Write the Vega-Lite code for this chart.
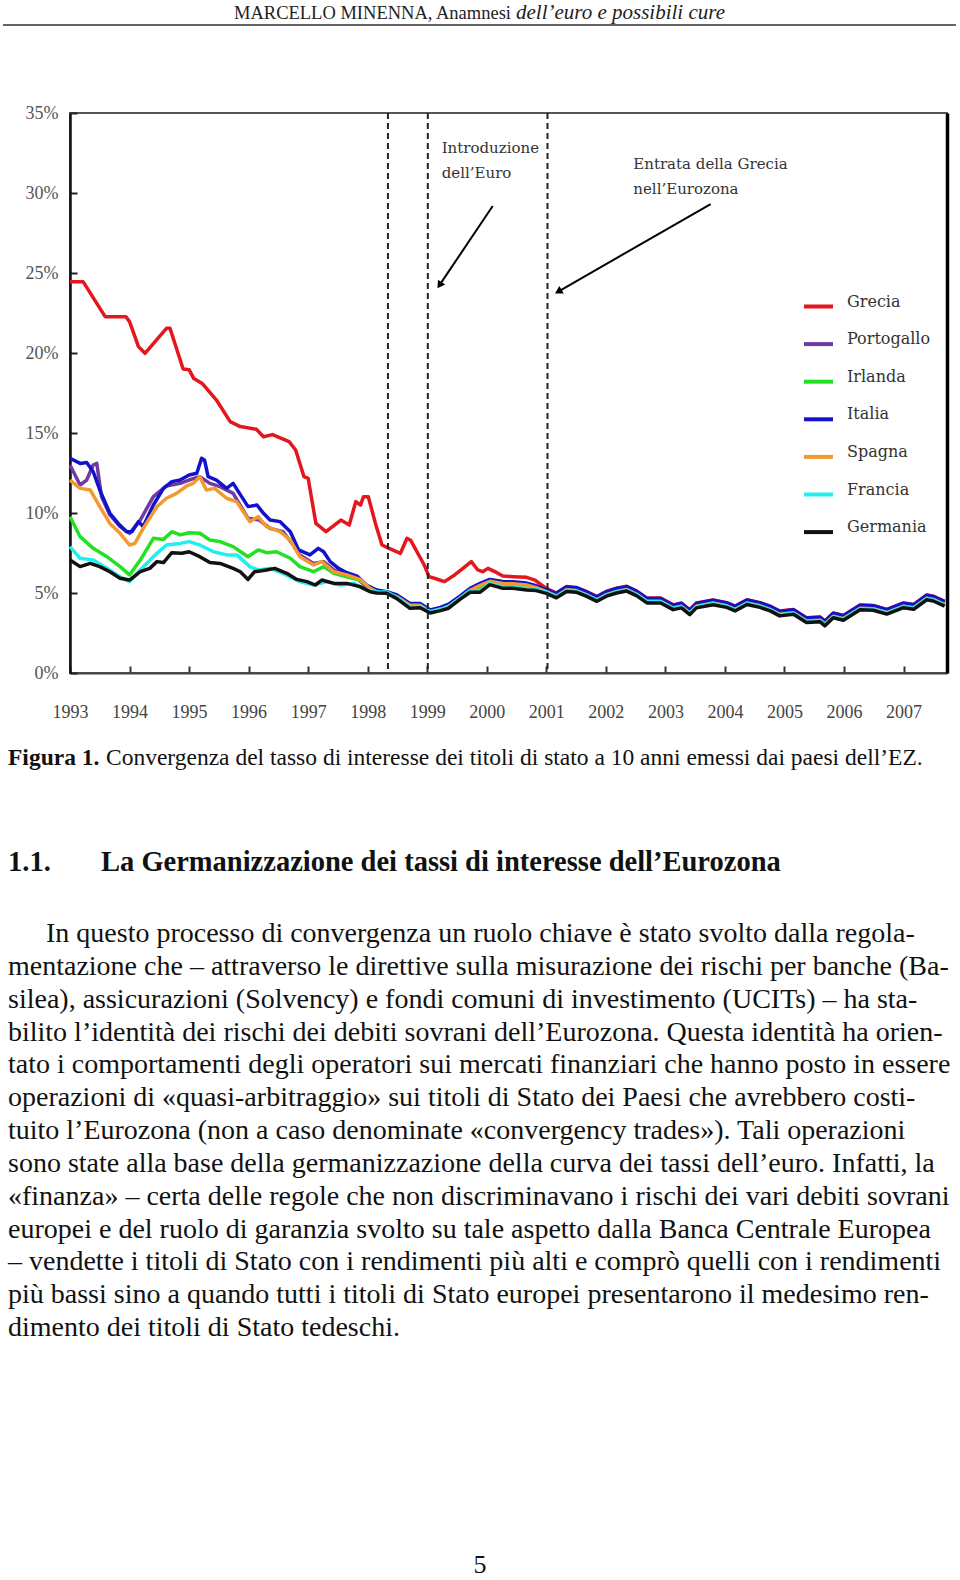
{
  "$schema": "https://vega.github.io/schema/vega-lite/v6.json",
  "width": 877,
  "height": 560,
  "autosize": {"type": "none"},
  "padding": {"left": 70, "top": 113, "right": 13, "bottom": 907},
  "background": "white",
  "config": {"view": {"stroke": "#555", "strokeWidth": 2}, "font": "Liberation Serif"},
  "datasets": {
    "rates": [
      {"paese":"Grecia","anno":1993.0,"tasso":24.46},{"paese":"Grecia","anno":1993.22,"tasso":24.46},{"paese":"Grecia","anno":1993.59,"tasso":22.27},{"paese":"Grecia","anno":1993.94,"tasso":22.27},{"paese":"Grecia","anno":1994.0,"tasso":21.96},{"paese":"Grecia","anno":1994.15,"tasso":20.4},{"paese":"Grecia","anno":1994.26,"tasso":19.98},{"paese":"Grecia","anno":1994.62,"tasso":21.54},{"paese":"Grecia","anno":1994.68,"tasso":21.54},{"paese":"Grecia","anno":1994.9,"tasso":19.0},{"paese":"Grecia","anno":1995.0,"tasso":18.96},{"paese":"Grecia","anno":1995.08,"tasso":18.4},{"paese":"Grecia","anno":1995.22,"tasso":18.1},{"paese":"Grecia","anno":1995.46,"tasso":17.06},{"paese":"Grecia","anno":1995.69,"tasso":15.71},{"paese":"Grecia","anno":1995.86,"tasso":15.4},{"paese":"Grecia","anno":1996.13,"tasso":15.23},{"paese":"Grecia","anno":1996.25,"tasso":14.77},{"paese":"Grecia","anno":1996.4,"tasso":14.9},{"paese":"Grecia","anno":1996.68,"tasso":14.46},{"paese":"Grecia","anno":1996.79,"tasso":13.94},{"paese":"Grecia","anno":1996.93,"tasso":12.27},{"paese":"Grecia","anno":1997.0,"tasso":12.17},{"paese":"Grecia","anno":1997.13,"tasso":9.35},{"paese":"Grecia","anno":1997.3,"tasso":8.83},{"paese":"Grecia","anno":1997.55,"tasso":9.56},{"paese":"Grecia","anno":1997.69,"tasso":9.25},{"paese":"Grecia","anno":1997.8,"tasso":10.71},{"paese":"Grecia","anno":1997.88,"tasso":10.5},{"paese":"Grecia","anno":1997.93,"tasso":11.02},{"paese":"Grecia","anno":1998.01,"tasso":11.02},{"paese":"Grecia","anno":1998.13,"tasso":9.35},{"paese":"Grecia","anno":1998.24,"tasso":8.0},{"paese":"Grecia","anno":1998.36,"tasso":7.79},{"paese":"Grecia","anno":1998.55,"tasso":7.48},{"paese":"Grecia","anno":1998.66,"tasso":8.42},{"paese":"Grecia","anno":1998.72,"tasso":8.3},{"paese":"Grecia","anno":1998.95,"tasso":6.75},{"paese":"Grecia","anno":1999.03,"tasso":6.02},{"paese":"Grecia","anno":1999.12,"tasso":5.92},{"paese":"Grecia","anno":1999.29,"tasso":5.71},{"paese":"Grecia","anno":1999.46,"tasso":6.13},{"paese":"Grecia","anno":1999.6,"tasso":6.54},{"paese":"Grecia","anno":1999.74,"tasso":6.96},{"paese":"Grecia","anno":1999.85,"tasso":6.44},{"paese":"Grecia","anno":1999.93,"tasso":6.33},{"paese":"Grecia","anno":2000.02,"tasso":6.54},{"paese":"Grecia","anno":2000.17,"tasso":6.27},{"paese":"Grecia","anno":2000.27,"tasso":6.06},{"paese":"Grecia","anno":2000.44,"tasso":6.02},{"paese":"Grecia","anno":2000.67,"tasso":5.98},{"paese":"Grecia","anno":2000.81,"tasso":5.81},{"paese":"Grecia","anno":2000.92,"tasso":5.5},{"paese":"Grecia","anno":2001.0,"tasso":5.29},
      {"paese":"Grecia","anno":2001.17,"tasso":5.0},{"paese":"Grecia","anno":2001.34,"tasso":5.4},{"paese":"Grecia","anno":2001.5,"tasso":5.35},{"paese":"Grecia","anno":2001.67,"tasso":5.1},{"paese":"Grecia","anno":2001.85,"tasso":4.78},{"paese":"Grecia","anno":2002.01,"tasso":5.1},{"paese":"Grecia","anno":2002.18,"tasso":5.3},{"paese":"Grecia","anno":2002.35,"tasso":5.42},{"paese":"Grecia","anno":2002.52,"tasso":5.12},{"paese":"Grecia","anno":2002.69,"tasso":4.68},{"paese":"Grecia","anno":2002.92,"tasso":4.68},{"paese":"Grecia","anno":2003.13,"tasso":4.26},{"paese":"Grecia","anno":2003.27,"tasso":4.37},{"paese":"Grecia","anno":2003.41,"tasso":3.95},{"paese":"Grecia","anno":2003.52,"tasso":4.37},{"paese":"Grecia","anno":2003.8,"tasso":4.57},{"paese":"Grecia","anno":2004.03,"tasso":4.4},{"paese":"Grecia","anno":2004.17,"tasso":4.18},{"paese":"Grecia","anno":2004.37,"tasso":4.58},{"paese":"Grecia","anno":2004.59,"tasso":4.4},{"paese":"Grecia","anno":2004.76,"tasso":4.18},{"paese":"Grecia","anno":2004.92,"tasso":3.87},{"paese":"Grecia","anno":2005.15,"tasso":3.97},{"paese":"Grecia","anno":2005.37,"tasso":3.45},{"paese":"Grecia","anno":2005.6,"tasso":3.5},{"paese":"Grecia","anno":2005.68,"tasso":3.25},{"paese":"Grecia","anno":2005.82,"tasso":3.75},{"paese":"Grecia","anno":2005.99,"tasso":3.6},{"paese":"Grecia","anno":2006.27,"tasso":4.25},{"paese":"Grecia","anno":2006.49,"tasso":4.22},{"paese":"Grecia","anno":2006.72,"tasso":3.98},{"paese":"Grecia","anno":2007.0,"tasso":4.38},{"paese":"Grecia","anno":2007.17,"tasso":4.28},{"paese":"Grecia","anno":2007.39,"tasso":4.88},{"paese":"Grecia","anno":2007.5,"tasso":4.8},{"paese":"Grecia","anno":2007.69,"tasso":4.48},

      {"paese":"Portogallo","anno":1993.0,"tasso":13.0},{"paese":"Portogallo","anno":1993.17,"tasso":11.75},{"paese":"Portogallo","anno":1993.28,"tasso":12.06},{"paese":"Portogallo","anno":1993.39,"tasso":13.0},{"paese":"Portogallo","anno":1993.45,"tasso":13.1},{"paese":"Portogallo","anno":1993.53,"tasso":11.02},{"paese":"Portogallo","anno":1993.67,"tasso":9.88},{"paese":"Portogallo","anno":1993.84,"tasso":9.15},{"paese":"Portogallo","anno":1994.0,"tasso":8.73},{"paese":"Portogallo","anno":1994.18,"tasso":9.56},{"paese":"Portogallo","anno":1994.4,"tasso":11.02},{"paese":"Portogallo","anno":1994.62,"tasso":11.69},{"paese":"Portogallo","anno":1994.85,"tasso":11.85},{"paese":"Portogallo","anno":1995.0,"tasso":12.06},{"paese":"Portogallo","anno":1995.18,"tasso":12.27},{"paese":"Portogallo","anno":1995.35,"tasso":11.85},{"paese":"Portogallo","anno":1995.52,"tasso":11.65},{"paese":"Portogallo","anno":1995.74,"tasso":11.23},{"paese":"Portogallo","anno":1995.99,"tasso":9.67},{"paese":"Portogallo","anno":1996.18,"tasso":9.56},{"paese":"Portogallo","anno":1996.36,"tasso":9.04},{"paese":"Portogallo","anno":1996.58,"tasso":8.83},{"paese":"Portogallo","anno":1996.75,"tasso":8.0},{"paese":"Portogallo","anno":1996.86,"tasso":7.38},{"paese":"Portogallo","anno":1997.09,"tasso":6.85},{"paese":"Portogallo","anno":1997.26,"tasso":6.96},{"paese":"Portogallo","anno":1997.43,"tasso":6.44},{"paese":"Portogallo","anno":1997.65,"tasso":6.13},{"paese":"Portogallo","anno":1997.82,"tasso":5.92},{"paese":"Portogallo","anno":1997.98,"tasso":5.4},
      {"paese":"Portogallo","anno":1998.15,"tasso":5.14},{"paese":"Portogallo","anno":1998.32,"tasso":5.03},{"paese":"Portogallo","anno":1998.49,"tasso":4.83},{"paese":"Portogallo","anno":1998.71,"tasso":4.3},{"paese":"Portogallo","anno":1998.88,"tasso":4.3},{"paese":"Portogallo","anno":1999.05,"tasso":3.89},{"paese":"Portogallo","anno":1999.22,"tasso":4.05},{"paese":"Portogallo","anno":1999.36,"tasso":4.25},{"paese":"Portogallo","anno":1999.55,"tasso":4.75},{"paese":"Portogallo","anno":1999.72,"tasso":5.24},{"paese":"Portogallo","anno":1999.89,"tasso":5.55},{"paese":"Portogallo","anno":2000.05,"tasso":5.8},{"paese":"Portogallo","anno":2000.27,"tasso":5.67},{"paese":"Portogallo","anno":2000.44,"tasso":5.65},{"paese":"Portogallo","anno":2000.67,"tasso":5.57},{"paese":"Portogallo","anno":2000.83,"tasso":5.4},{"paese":"Portogallo","anno":2001.0,"tasso":5.15},
      {"paese":"Portogallo","anno":2001.17,"tasso":4.92},{"paese":"Portogallo","anno":2001.34,"tasso":5.32},{"paese":"Portogallo","anno":2001.5,"tasso":5.27},{"paese":"Portogallo","anno":2001.67,"tasso":5.02},{"paese":"Portogallo","anno":2001.85,"tasso":4.7},{"paese":"Portogallo","anno":2002.01,"tasso":5.02},{"paese":"Portogallo","anno":2002.18,"tasso":5.22},{"paese":"Portogallo","anno":2002.35,"tasso":5.34},{"paese":"Portogallo","anno":2002.52,"tasso":5.04},{"paese":"Portogallo","anno":2002.69,"tasso":4.6},{"paese":"Portogallo","anno":2002.92,"tasso":4.6},{"paese":"Portogallo","anno":2003.13,"tasso":4.18},{"paese":"Portogallo","anno":2003.27,"tasso":4.29},{"paese":"Portogallo","anno":2003.41,"tasso":3.87},{"paese":"Portogallo","anno":2003.52,"tasso":4.29},{"paese":"Portogallo","anno":2003.8,"tasso":4.49},{"paese":"Portogallo","anno":2004.03,"tasso":4.32},{"paese":"Portogallo","anno":2004.17,"tasso":4.1},{"paese":"Portogallo","anno":2004.37,"tasso":4.5},{"paese":"Portogallo","anno":2004.59,"tasso":4.32},{"paese":"Portogallo","anno":2004.76,"tasso":4.1},{"paese":"Portogallo","anno":2004.92,"tasso":3.79},{"paese":"Portogallo","anno":2005.15,"tasso":3.89},{"paese":"Portogallo","anno":2005.37,"tasso":3.37},{"paese":"Portogallo","anno":2005.6,"tasso":3.42},{"paese":"Portogallo","anno":2005.68,"tasso":3.17},{"paese":"Portogallo","anno":2005.82,"tasso":3.67},{"paese":"Portogallo","anno":2005.99,"tasso":3.52},{"paese":"Portogallo","anno":2006.27,"tasso":4.17},{"paese":"Portogallo","anno":2006.49,"tasso":4.14},{"paese":"Portogallo","anno":2006.72,"tasso":3.9},{"paese":"Portogallo","anno":2007.0,"tasso":4.3},{"paese":"Portogallo","anno":2007.17,"tasso":4.2},{"paese":"Portogallo","anno":2007.39,"tasso":4.8},{"paese":"Portogallo","anno":2007.5,"tasso":4.72},{"paese":"Portogallo","anno":2007.69,"tasso":4.4},

      {"paese":"Irlanda","anno":1993.0,"tasso":9.77},{"paese":"Irlanda","anno":1993.17,"tasso":8.52},{"paese":"Irlanda","anno":1993.39,"tasso":7.79},{"paese":"Irlanda","anno":1993.62,"tasso":7.27},{"paese":"Irlanda","anno":1993.84,"tasso":6.65},{"paese":"Irlanda","anno":1994.0,"tasso":6.13},{"paese":"Irlanda","anno":1994.18,"tasso":7.06},{"paese":"Irlanda","anno":1994.4,"tasso":8.42},{"paese":"Irlanda","anno":1994.57,"tasso":8.35},{"paese":"Irlanda","anno":1994.71,"tasso":8.83},{"paese":"Irlanda","anno":1994.85,"tasso":8.63},{"paese":"Irlanda","anno":1995.0,"tasso":8.77},{"paese":"Irlanda","anno":1995.18,"tasso":8.73},{"paese":"Irlanda","anno":1995.35,"tasso":8.31},{"paese":"Irlanda","anno":1995.52,"tasso":8.21},{"paese":"Irlanda","anno":1995.74,"tasso":7.9},{"paese":"Irlanda","anno":1995.99,"tasso":7.27},{"paese":"Irlanda","anno":1996.16,"tasso":7.69},{"paese":"Irlanda","anno":1996.3,"tasso":7.52},{"paese":"Irlanda","anno":1996.47,"tasso":7.58},{"paese":"Irlanda","anno":1996.7,"tasso":7.17},{"paese":"Irlanda","anno":1996.86,"tasso":6.65},{"paese":"Irlanda","anno":1997.09,"tasso":6.33},{"paese":"Irlanda","anno":1997.26,"tasso":6.65},{"paese":"Irlanda","anno":1997.43,"tasso":6.23},{"paese":"Irlanda","anno":1997.65,"tasso":6.02},{"paese":"Irlanda","anno":1997.87,"tasso":5.81},{"paese":"Irlanda","anno":1998.04,"tasso":5.3},
      {"paese":"Irlanda","anno":1998.15,"tasso":5.1},{"paese":"Irlanda","anno":1998.32,"tasso":5.03},{"paese":"Irlanda","anno":1998.49,"tasso":4.77},{"paese":"Irlanda","anno":1998.71,"tasso":4.2},{"paese":"Irlanda","anno":1998.88,"tasso":4.22},{"paese":"Irlanda","anno":1999.05,"tasso":3.85},{"paese":"Irlanda","anno":1999.22,"tasso":4.0},{"paese":"Irlanda","anno":1999.36,"tasso":4.18},{"paese":"Irlanda","anno":1999.55,"tasso":4.7},{"paese":"Irlanda","anno":1999.72,"tasso":5.17},{"paese":"Irlanda","anno":1999.89,"tasso":5.33},{"paese":"Irlanda","anno":2000.05,"tasso":5.69},{"paese":"Irlanda","anno":2000.27,"tasso":5.51},{"paese":"Irlanda","anno":2000.44,"tasso":5.5},{"paese":"Irlanda","anno":2000.67,"tasso":5.41},{"paese":"Irlanda","anno":2000.83,"tasso":5.3},{"paese":"Irlanda","anno":2001.0,"tasso":5.09},
      {"paese":"Irlanda","anno":2001.17,"tasso":4.82},{"paese":"Irlanda","anno":2001.34,"tasso":5.22},{"paese":"Irlanda","anno":2001.5,"tasso":5.17},{"paese":"Irlanda","anno":2001.67,"tasso":4.92},{"paese":"Irlanda","anno":2001.85,"tasso":4.6},{"paese":"Irlanda","anno":2002.01,"tasso":4.92},{"paese":"Irlanda","anno":2002.18,"tasso":5.12},{"paese":"Irlanda","anno":2002.35,"tasso":5.24},{"paese":"Irlanda","anno":2002.52,"tasso":4.94},{"paese":"Irlanda","anno":2002.69,"tasso":4.5},{"paese":"Irlanda","anno":2002.92,"tasso":4.5},{"paese":"Irlanda","anno":2003.13,"tasso":4.08},{"paese":"Irlanda","anno":2003.27,"tasso":4.19},{"paese":"Irlanda","anno":2003.41,"tasso":3.77},{"paese":"Irlanda","anno":2003.52,"tasso":4.19},{"paese":"Irlanda","anno":2003.8,"tasso":4.39},{"paese":"Irlanda","anno":2004.03,"tasso":4.22},{"paese":"Irlanda","anno":2004.17,"tasso":4.0},{"paese":"Irlanda","anno":2004.37,"tasso":4.4},{"paese":"Irlanda","anno":2004.59,"tasso":4.22},{"paese":"Irlanda","anno":2004.76,"tasso":4.0},{"paese":"Irlanda","anno":2004.92,"tasso":3.69},{"paese":"Irlanda","anno":2005.15,"tasso":3.79},{"paese":"Irlanda","anno":2005.37,"tasso":3.27},{"paese":"Irlanda","anno":2005.6,"tasso":3.32},{"paese":"Irlanda","anno":2005.68,"tasso":3.07},{"paese":"Irlanda","anno":2005.82,"tasso":3.57},{"paese":"Irlanda","anno":2005.99,"tasso":3.42},{"paese":"Irlanda","anno":2006.27,"tasso":4.07},{"paese":"Irlanda","anno":2006.49,"tasso":4.04},{"paese":"Irlanda","anno":2006.72,"tasso":3.8},{"paese":"Irlanda","anno":2007.0,"tasso":4.2},{"paese":"Irlanda","anno":2007.17,"tasso":4.1},{"paese":"Irlanda","anno":2007.39,"tasso":4.7},{"paese":"Irlanda","anno":2007.5,"tasso":4.62},{"paese":"Irlanda","anno":2007.69,"tasso":4.3},

      {"paese":"Italia","anno":1993.0,"tasso":13.42},{"paese":"Italia","anno":1993.17,"tasso":13.1},{"paese":"Italia","anno":1993.28,"tasso":13.15},{"paese":"Italia","anno":1993.39,"tasso":12.58},{"paese":"Italia","anno":1993.5,"tasso":11.44},{"paese":"Italia","anno":1993.67,"tasso":9.98},{"paese":"Italia","anno":1993.81,"tasso":9.35},{"paese":"Italia","anno":1993.95,"tasso":8.83},{"paese":"Italia","anno":1994.04,"tasso":8.83},{"paese":"Italia","anno":1994.15,"tasso":9.46},{"paese":"Italia","anno":1994.23,"tasso":9.15},{"paese":"Italia","anno":1994.4,"tasso":10.5},{"paese":"Italia","anno":1994.57,"tasso":11.54},{"paese":"Italia","anno":1994.71,"tasso":11.96},{"paese":"Italia","anno":1994.85,"tasso":12.06},{"paese":"Italia","anno":1995.0,"tasso":12.38},{"paese":"Italia","anno":1995.13,"tasso":12.48},{"paese":"Italia","anno":1995.21,"tasso":13.42},{"paese":"Italia","anno":1995.26,"tasso":13.3},{"paese":"Italia","anno":1995.32,"tasso":12.27},{"paese":"Italia","anno":1995.46,"tasso":12.06},{"paese":"Italia","anno":1995.63,"tasso":11.54},{"paese":"Italia","anno":1995.74,"tasso":11.85},{"paese":"Italia","anno":1995.99,"tasso":10.4},{"paese":"Italia","anno":1996.14,"tasso":10.5},{"paese":"Italia","anno":1996.25,"tasso":9.98},{"paese":"Italia","anno":1996.36,"tasso":9.56},{"paese":"Italia","anno":1996.53,"tasso":9.46},{"paese":"Italia","anno":1996.7,"tasso":8.83},{"paese":"Italia","anno":1996.84,"tasso":7.69},{"paese":"Italia","anno":1997.03,"tasso":7.38},{"paese":"Italia","anno":1997.17,"tasso":7.79},{"paese":"Italia","anno":1997.26,"tasso":7.58},{"paese":"Italia","anno":1997.37,"tasso":6.96},{"paese":"Italia","anno":1997.51,"tasso":6.54},{"paese":"Italia","anno":1997.65,"tasso":6.27},{"paese":"Italia","anno":1997.82,"tasso":6.06},{"paese":"Italia","anno":1997.98,"tasso":5.5},
      {"paese":"Italia","anno":1998.15,"tasso":5.19},{"paese":"Italia","anno":1998.32,"tasso":5.08},{"paese":"Italia","anno":1998.49,"tasso":4.88},{"paese":"Italia","anno":1998.71,"tasso":4.35},{"paese":"Italia","anno":1998.88,"tasso":4.35},{"paese":"Italia","anno":1999.05,"tasso":3.94},{"paese":"Italia","anno":1999.22,"tasso":4.1},{"paese":"Italia","anno":1999.36,"tasso":4.3},{"paese":"Italia","anno":1999.55,"tasso":4.8},{"paese":"Italia","anno":1999.72,"tasso":5.29},{"paese":"Italia","anno":1999.89,"tasso":5.6},{"paese":"Italia","anno":2000.05,"tasso":5.85},{"paese":"Italia","anno":2000.27,"tasso":5.72},{"paese":"Italia","anno":2000.44,"tasso":5.7},{"paese":"Italia","anno":2000.67,"tasso":5.62},{"paese":"Italia","anno":2000.83,"tasso":5.45},{"paese":"Italia","anno":2001.0,"tasso":5.2},
      {"paese":"Italia","anno":2001.17,"tasso":4.98},{"paese":"Italia","anno":2001.34,"tasso":5.38},{"paese":"Italia","anno":2001.5,"tasso":5.33},{"paese":"Italia","anno":2001.67,"tasso":5.08},{"paese":"Italia","anno":2001.85,"tasso":4.76},{"paese":"Italia","anno":2002.01,"tasso":5.08},{"paese":"Italia","anno":2002.18,"tasso":5.28},{"paese":"Italia","anno":2002.35,"tasso":5.4},{"paese":"Italia","anno":2002.52,"tasso":5.1},{"paese":"Italia","anno":2002.69,"tasso":4.66},{"paese":"Italia","anno":2002.92,"tasso":4.66},{"paese":"Italia","anno":2003.13,"tasso":4.24},{"paese":"Italia","anno":2003.27,"tasso":4.35},{"paese":"Italia","anno":2003.41,"tasso":3.93},{"paese":"Italia","anno":2003.52,"tasso":4.35},{"paese":"Italia","anno":2003.8,"tasso":4.55},{"paese":"Italia","anno":2004.03,"tasso":4.38},{"paese":"Italia","anno":2004.17,"tasso":4.16},{"paese":"Italia","anno":2004.37,"tasso":4.56},{"paese":"Italia","anno":2004.59,"tasso":4.38},{"paese":"Italia","anno":2004.76,"tasso":4.16},{"paese":"Italia","anno":2004.92,"tasso":3.85},{"paese":"Italia","anno":2005.15,"tasso":3.95},{"paese":"Italia","anno":2005.37,"tasso":3.43},{"paese":"Italia","anno":2005.6,"tasso":3.48},{"paese":"Italia","anno":2005.68,"tasso":3.23},{"paese":"Italia","anno":2005.82,"tasso":3.73},{"paese":"Italia","anno":2005.99,"tasso":3.58},{"paese":"Italia","anno":2006.27,"tasso":4.23},{"paese":"Italia","anno":2006.49,"tasso":4.2},{"paese":"Italia","anno":2006.72,"tasso":3.96},{"paese":"Italia","anno":2007.0,"tasso":4.36},{"paese":"Italia","anno":2007.17,"tasso":4.26},{"paese":"Italia","anno":2007.39,"tasso":4.86},{"paese":"Italia","anno":2007.5,"tasso":4.78},{"paese":"Italia","anno":2007.69,"tasso":4.46},

      {"paese":"Spagna","anno":1993.0,"tasso":12.06},{"paese":"Spagna","anno":1993.17,"tasso":11.54},{"paese":"Spagna","anno":1993.34,"tasso":11.44},{"paese":"Spagna","anno":1993.5,"tasso":10.4},{"paese":"Spagna","anno":1993.67,"tasso":9.35},{"paese":"Spagna","anno":1993.84,"tasso":8.73},{"paese":"Spagna","anno":1994.0,"tasso":8.0},{"paese":"Spagna","anno":1994.09,"tasso":8.1},{"paese":"Spagna","anno":1994.23,"tasso":9.04},{"paese":"Spagna","anno":1994.46,"tasso":10.4},{"paese":"Spagna","anno":1994.62,"tasso":10.92},{"paese":"Spagna","anno":1994.79,"tasso":11.23},{"paese":"Spagna","anno":1994.96,"tasso":11.69},{"paese":"Spagna","anno":1995.07,"tasso":11.85},{"paese":"Spagna","anno":1995.18,"tasso":12.27},{"paese":"Spagna","anno":1995.29,"tasso":11.44},{"paese":"Spagna","anno":1995.43,"tasso":11.54},{"paese":"Spagna","anno":1995.63,"tasso":10.92},{"paese":"Spagna","anno":1995.8,"tasso":10.71},{"paese":"Spagna","anno":1996.02,"tasso":9.46},{"paese":"Spagna","anno":1996.16,"tasso":9.77},{"paese":"Spagna","anno":1996.3,"tasso":9.15},{"paese":"Spagna","anno":1996.53,"tasso":8.83},{"paese":"Spagna","anno":1996.7,"tasso":8.31},{"paese":"Spagna","anno":1996.86,"tasso":7.27},{"paese":"Spagna","anno":1997.09,"tasso":6.75},{"paese":"Spagna","anno":1997.23,"tasso":6.96},{"paese":"Spagna","anno":1997.43,"tasso":6.33},{"paese":"Spagna","anno":1997.65,"tasso":6.13},{"paese":"Spagna","anno":1997.87,"tasso":5.85},{"paese":"Spagna","anno":1998.04,"tasso":5.29},
      {"paese":"Spagna","anno":1998.15,"tasso":5.07},{"paese":"Spagna","anno":1998.32,"tasso":4.96},{"paese":"Spagna","anno":1998.49,"tasso":4.76},{"paese":"Spagna","anno":1998.71,"tasso":4.23},{"paese":"Spagna","anno":1998.88,"tasso":4.23},{"paese":"Spagna","anno":1999.05,"tasso":3.82},{"paese":"Spagna","anno":1999.22,"tasso":3.98},{"paese":"Spagna","anno":1999.36,"tasso":4.18},{"paese":"Spagna","anno":1999.55,"tasso":4.68},{"paese":"Spagna","anno":1999.72,"tasso":5.17},{"paese":"Spagna","anno":1999.89,"tasso":5.48},{"paese":"Spagna","anno":2000.05,"tasso":5.73},{"paese":"Spagna","anno":2000.27,"tasso":5.6},{"paese":"Spagna","anno":2000.44,"tasso":5.58},{"paese":"Spagna","anno":2000.67,"tasso":5.5},{"paese":"Spagna","anno":2000.83,"tasso":5.33},{"paese":"Spagna","anno":2001.0,"tasso":5.08},
      {"paese":"Spagna","anno":2001.17,"tasso":4.8},{"paese":"Spagna","anno":2001.34,"tasso":5.2},{"paese":"Spagna","anno":2001.5,"tasso":5.15},{"paese":"Spagna","anno":2001.67,"tasso":4.9},{"paese":"Spagna","anno":2001.85,"tasso":4.58},{"paese":"Spagna","anno":2002.01,"tasso":4.9},{"paese":"Spagna","anno":2002.18,"tasso":5.1},{"paese":"Spagna","anno":2002.35,"tasso":5.22},{"paese":"Spagna","anno":2002.52,"tasso":4.92},{"paese":"Spagna","anno":2002.69,"tasso":4.48},{"paese":"Spagna","anno":2002.92,"tasso":4.48},{"paese":"Spagna","anno":2003.13,"tasso":4.06},{"paese":"Spagna","anno":2003.27,"tasso":4.17},{"paese":"Spagna","anno":2003.41,"tasso":3.75},{"paese":"Spagna","anno":2003.52,"tasso":4.17},{"paese":"Spagna","anno":2003.8,"tasso":4.37},{"paese":"Spagna","anno":2004.03,"tasso":4.2},{"paese":"Spagna","anno":2004.17,"tasso":3.98},{"paese":"Spagna","anno":2004.37,"tasso":4.38},{"paese":"Spagna","anno":2004.59,"tasso":4.2},{"paese":"Spagna","anno":2004.76,"tasso":3.98},{"paese":"Spagna","anno":2004.92,"tasso":3.67},{"paese":"Spagna","anno":2005.15,"tasso":3.77},{"paese":"Spagna","anno":2005.37,"tasso":3.25},{"paese":"Spagna","anno":2005.6,"tasso":3.3},{"paese":"Spagna","anno":2005.68,"tasso":3.05},{"paese":"Spagna","anno":2005.82,"tasso":3.55},{"paese":"Spagna","anno":2005.99,"tasso":3.4},{"paese":"Spagna","anno":2006.27,"tasso":4.05},{"paese":"Spagna","anno":2006.49,"tasso":4.02},{"paese":"Spagna","anno":2006.72,"tasso":3.78},{"paese":"Spagna","anno":2007.0,"tasso":4.18},{"paese":"Spagna","anno":2007.17,"tasso":4.08},{"paese":"Spagna","anno":2007.39,"tasso":4.68},{"paese":"Spagna","anno":2007.5,"tasso":4.6},{"paese":"Spagna","anno":2007.69,"tasso":4.28},

      {"paese":"Francia","anno":1993.0,"tasso":7.9},{"paese":"Francia","anno":1993.17,"tasso":7.17},{"paese":"Francia","anno":1993.39,"tasso":7.06},{"paese":"Francia","anno":1993.62,"tasso":6.54},{"paese":"Francia","anno":1993.84,"tasso":6.02},{"paese":"Francia","anno":1994.0,"tasso":5.71},{"paese":"Francia","anno":1994.18,"tasso":6.44},{"paese":"Francia","anno":1994.4,"tasso":7.27},{"paese":"Francia","anno":1994.62,"tasso":8.0},{"paese":"Francia","anno":1994.85,"tasso":8.1},{"paese":"Francia","anno":1995.0,"tasso":8.21},{"paese":"Francia","anno":1995.18,"tasso":8.0},{"paese":"Francia","anno":1995.41,"tasso":7.58},{"paese":"Francia","anno":1995.63,"tasso":7.38},{"paese":"Francia","anno":1995.8,"tasso":7.38},{"paese":"Francia","anno":1996.02,"tasso":6.65},{"paese":"Francia","anno":1996.16,"tasso":6.44},{"paese":"Francia","anno":1996.36,"tasso":6.54},{"paese":"Francia","anno":1996.58,"tasso":6.23},{"paese":"Francia","anno":1996.86,"tasso":5.71},{"paese":"Francia","anno":1997.09,"tasso":5.5},{"paese":"Francia","anno":1997.32,"tasso":5.71},{"paese":"Francia","anno":1997.54,"tasso":5.5},{"paese":"Francia","anno":1997.77,"tasso":5.6},{"paese":"Francia","anno":1997.98,"tasso":5.19},
      {"paese":"Francia","anno":1998.15,"tasso":5.08},{"paese":"Francia","anno":1998.32,"tasso":5.06},{"paese":"Francia","anno":1998.49,"tasso":4.73},{"paese":"Francia","anno":1998.71,"tasso":4.12},{"paese":"Francia","anno":1998.88,"tasso":4.16},{"paese":"Francia","anno":1999.05,"tasso":3.83},{"paese":"Francia","anno":1999.22,"tasso":3.98},{"paese":"Francia","anno":1999.36,"tasso":4.13},{"paese":"Francia","anno":1999.55,"tasso":4.68},{"paese":"Francia","anno":1999.72,"tasso":5.13},{"paese":"Francia","anno":1999.89,"tasso":5.13},{"paese":"Francia","anno":2000.05,"tasso":5.6},{"paese":"Francia","anno":2000.27,"tasso":5.37},{"paese":"Francia","anno":2000.44,"tasso":5.37},{"paese":"Francia","anno":2000.67,"tasso":5.27},{"paese":"Francia","anno":2000.83,"tasso":5.23},{"paese":"Francia","anno":2001.0,"tasso":5.06},
      {"paese":"Francia","anno":2001.17,"tasso":4.77},{"paese":"Francia","anno":2001.34,"tasso":5.17},{"paese":"Francia","anno":2001.5,"tasso":5.12},{"paese":"Francia","anno":2001.67,"tasso":4.87},{"paese":"Francia","anno":2001.85,"tasso":4.55},{"paese":"Francia","anno":2002.01,"tasso":4.87},{"paese":"Francia","anno":2002.18,"tasso":5.07},{"paese":"Francia","anno":2002.35,"tasso":5.19},{"paese":"Francia","anno":2002.52,"tasso":4.89},{"paese":"Francia","anno":2002.69,"tasso":4.45},{"paese":"Francia","anno":2002.92,"tasso":4.45},{"paese":"Francia","anno":2003.13,"tasso":4.03},{"paese":"Francia","anno":2003.27,"tasso":4.14},{"paese":"Francia","anno":2003.41,"tasso":3.72},{"paese":"Francia","anno":2003.52,"tasso":4.14},{"paese":"Francia","anno":2003.8,"tasso":4.34},{"paese":"Francia","anno":2004.03,"tasso":4.17},{"paese":"Francia","anno":2004.17,"tasso":3.95},{"paese":"Francia","anno":2004.37,"tasso":4.35},{"paese":"Francia","anno":2004.59,"tasso":4.17},{"paese":"Francia","anno":2004.76,"tasso":3.95},{"paese":"Francia","anno":2004.92,"tasso":3.64},{"paese":"Francia","anno":2005.15,"tasso":3.74},{"paese":"Francia","anno":2005.37,"tasso":3.22},{"paese":"Francia","anno":2005.6,"tasso":3.27},{"paese":"Francia","anno":2005.68,"tasso":3.02},{"paese":"Francia","anno":2005.82,"tasso":3.52},{"paese":"Francia","anno":2005.99,"tasso":3.37},{"paese":"Francia","anno":2006.27,"tasso":4.02},{"paese":"Francia","anno":2006.49,"tasso":3.99},{"paese":"Francia","anno":2006.72,"tasso":3.75},{"paese":"Francia","anno":2007.0,"tasso":4.15},{"paese":"Francia","anno":2007.17,"tasso":4.05},{"paese":"Francia","anno":2007.39,"tasso":4.65},{"paese":"Francia","anno":2007.5,"tasso":4.57},{"paese":"Francia","anno":2007.69,"tasso":4.25},

      {"paese":"Germania","anno":1993.0,"tasso":7.06},{"paese":"Germania","anno":1993.17,"tasso":6.65},{"paese":"Germania","anno":1993.34,"tasso":6.85},{"paese":"Germania","anno":1993.5,"tasso":6.65},{"paese":"Germania","anno":1993.67,"tasso":6.33},{"paese":"Germania","anno":1993.84,"tasso":5.92},{"paese":"Germania","anno":1994.0,"tasso":5.81},{"paese":"Germania","anno":1994.18,"tasso":6.33},{"paese":"Germania","anno":1994.34,"tasso":6.54},{"paese":"Germania","anno":1994.46,"tasso":6.96},{"paese":"Germania","anno":1994.57,"tasso":6.9},{"paese":"Germania","anno":1994.71,"tasso":7.52},{"paese":"Germania","anno":1994.88,"tasso":7.48},{"paese":"Germania","anno":1995.0,"tasso":7.58},{"paese":"Germania","anno":1995.18,"tasso":7.27},{"paese":"Germania","anno":1995.35,"tasso":6.9},{"paese":"Germania","anno":1995.52,"tasso":6.85},{"paese":"Germania","anno":1995.74,"tasso":6.54},{"paese":"Germania","anno":1995.86,"tasso":6.33},{"paese":"Germania","anno":1995.99,"tasso":5.85},{"paese":"Germania","anno":1996.1,"tasso":6.33},{"paese":"Germania","anno":1996.3,"tasso":6.44},{"paese":"Germania","anno":1996.44,"tasso":6.54},{"paese":"Germania","anno":1996.64,"tasso":6.23},{"paese":"Germania","anno":1996.81,"tasso":5.85},{"paese":"Germania","anno":1996.98,"tasso":5.71},{"paese":"Germania","anno":1997.12,"tasso":5.5},{"paese":"Germania","anno":1997.23,"tasso":5.81},{"paese":"Germania","anno":1997.43,"tasso":5.6},{"paese":"Germania","anno":1997.65,"tasso":5.6},{"paese":"Germania","anno":1997.87,"tasso":5.4},{"paese":"Germania","anno":1998.04,"tasso":5.08},
      {"paese":"Germania","anno":1998.15,"tasso":5.0},{"paese":"Germania","anno":1998.32,"tasso":4.98},{"paese":"Germania","anno":1998.49,"tasso":4.65},{"paese":"Germania","anno":1998.71,"tasso":4.04},{"paese":"Germania","anno":1998.88,"tasso":4.08},{"paese":"Germania","anno":1999.05,"tasso":3.75},{"paese":"Germania","anno":1999.22,"tasso":3.9},{"paese":"Germania","anno":1999.36,"tasso":4.05},{"paese":"Germania","anno":1999.55,"tasso":4.6},{"paese":"Germania","anno":1999.72,"tasso":5.05},{"paese":"Germania","anno":1999.89,"tasso":5.05},{"paese":"Germania","anno":2000.05,"tasso":5.52},{"paese":"Germania","anno":2000.27,"tasso":5.29},{"paese":"Germania","anno":2000.44,"tasso":5.29},{"paese":"Germania","anno":2000.67,"tasso":5.19},{"paese":"Germania","anno":2000.83,"tasso":5.15},{"paese":"Germania","anno":2001.0,"tasso":4.98},
      {"paese":"Germania","anno":2001.17,"tasso":4.7},{"paese":"Germania","anno":2001.34,"tasso":5.1},{"paese":"Germania","anno":2001.5,"tasso":5.05},{"paese":"Germania","anno":2001.67,"tasso":4.8},{"paese":"Germania","anno":2001.85,"tasso":4.48},{"paese":"Germania","anno":2002.01,"tasso":4.8},{"paese":"Germania","anno":2002.18,"tasso":5.0},{"paese":"Germania","anno":2002.35,"tasso":5.12},{"paese":"Germania","anno":2002.52,"tasso":4.82},{"paese":"Germania","anno":2002.69,"tasso":4.38},{"paese":"Germania","anno":2002.92,"tasso":4.38},{"paese":"Germania","anno":2003.13,"tasso":3.96},{"paese":"Germania","anno":2003.27,"tasso":4.07},{"paese":"Germania","anno":2003.41,"tasso":3.65},{"paese":"Germania","anno":2003.52,"tasso":4.07},{"paese":"Germania","anno":2003.8,"tasso":4.27},{"paese":"Germania","anno":2004.03,"tasso":4.1},{"paese":"Germania","anno":2004.17,"tasso":3.88},{"paese":"Germania","anno":2004.37,"tasso":4.28},{"paese":"Germania","anno":2004.59,"tasso":4.1},{"paese":"Germania","anno":2004.76,"tasso":3.88},{"paese":"Germania","anno":2004.92,"tasso":3.57},{"paese":"Germania","anno":2005.15,"tasso":3.67},{"paese":"Germania","anno":2005.37,"tasso":3.15},{"paese":"Germania","anno":2005.6,"tasso":3.2},{"paese":"Germania","anno":2005.68,"tasso":2.95},{"paese":"Germania","anno":2005.82,"tasso":3.45},{"paese":"Germania","anno":2005.99,"tasso":3.3},{"paese":"Germania","anno":2006.27,"tasso":3.95},{"paese":"Germania","anno":2006.49,"tasso":3.92},{"paese":"Germania","anno":2006.72,"tasso":3.68},{"paese":"Germania","anno":2007.0,"tasso":4.08},{"paese":"Germania","anno":2007.17,"tasso":3.98},{"paese":"Germania","anno":2007.39,"tasso":4.58},{"paese":"Germania","anno":2007.5,"tasso":4.5},{"paese":"Germania","anno":2007.69,"tasso":4.18}
    ]
  },
  "layer": [
    {
      "layer": [
        {
          "data": {"name": "rates"},
          "mark": {"type": "line", "strokeWidth": 3.5, "strokeJoin": "round"},
          "encoding": {
            "x": {"field": "anno", "type": "quantitative",
              "scale": {"domain": [1993, 2007.73], "nice": false, "zero": false},
              "axis": {"values": [1993,1994,1995,1996,1997,1998,1999,2000,2001,2002,2003,2004,2005,2006,2007], "format": "d", "title": null, "grid": false,
                "labelFont": "Liberation Serif", "labelFontSize": 18, "labelColor": "#444", "labelPadding": 37, "labelOverlap": false, "labelFlush": false,
                "tickSize": -7, "tickWidth": 2, "tickColor": "#333", "domainColor": "#444", "domainWidth": 2}},
            "y": {"field": "tasso", "type": "quantitative",
              "scale": {"domain": [0, 35], "nice": false},
              "axis": {"values": [0,5,10,15,20,25,30,35], "labelExpr": "datum.value + '%'", "title": null, "grid": false,
                "labelFont": "Liberation Serif", "labelFontSize": 18, "labelColor": "#555", "labelPadding": 19,
                "tickSize": -7, "tickWidth": 2, "tickColor": "#222", "domainColor": "#111", "domainWidth": 2.5}},
            "color": {"field": "paese", "type": "nominal",
              "scale": {"domain": ["Grecia","Portogallo","Irlanda","Italia","Spagna","Francia","Germania"],
                        "range": ["#e5161d","#6f3aa3","#22e022","#1212cc","#f29a2e","#22eef0","#111111"]},
              "legend": {"orient": "none", "legendX": 732, "legendY": 177, "title": null, "direction": "vertical",
                "symbolType": "stroke", "symbolSize": 841, "symbolStrokeWidth": 4, "padding": 0,
                "labelFont": "DejaVu Serif", "labelFontSize": 16, "labelColor": "#333", "labelOffset": 12,
                "labelBaseline": "alphabetic", "rowPadding": 12.6}}
          }
        },
        {
          "data": {"values": [{"anno": 1998.34}, {"anno": 1999.01}, {"anno": 2001.02}]},
          "mark": {"type": "rule", "stroke": "#222", "strokeWidth": 2, "strokeDash": [6, 4]},
          "encoding": {"x": {"field": "anno", "type": "quantitative", "axis": {"title": null}}}
        },
        {
          "data": {"values": [{}]},
          "mark": {"type": "rule", "stroke": "#000", "strokeWidth": 2},
          "encoding": {
            "x": {"datum": 2000.10, "type": "quantitative", "axis": {"title": null}},
            "y": {"datum": 29.19, "type": "quantitative", "axis": {"orient": "right", "labels": false, "ticks": false, "title": null, "grid": false, "domainColor": "#000", "domainWidth": 3.5}},
            "x2": {"datum": 1999.206},
            "y2": {"datum": 24.24}
          }
        },
        {
          "data": {"values": [{}]},
          "mark": {"type": "rule", "stroke": "#000", "strokeWidth": 2},
          "encoding": {
            "x": {"datum": 2003.76, "type": "quantitative", "axis": {"title": null}},
            "y": {"datum": 29.31, "type": "quantitative", "axis": null},
            "x2": {"datum": 2001.201},
            "y2": {"datum": 23.84}
          }
        },
        {
          "data": {"values": [{}]},
          "mark": {"type": "point", "shape": "triangle-up", "filled": true, "color": "#000", "size": 75, "angle": 214, "opacity": 1},
          "encoding": {
            "x": {"datum": 1999.206, "type": "quantitative", "axis": {"title": null}},
            "y": {"datum": 24.24, "type": "quantitative", "axis": null}
          }
        },
        {
          "data": {"values": [{}]},
          "mark": {"type": "point", "shape": "triangle-up", "filled": true, "color": "#000", "size": 75, "angle": 240, "opacity": 1},
          "encoding": {
            "x": {"datum": 2001.201, "type": "quantitative", "axis": {"title": null}},
            "y": {"datum": 23.84, "type": "quantitative", "axis": null}
          }
        },
        {
          "data": {"values": [{"testo": ["Introduzione", "dell’Euro"]}]},
          "mark": {"type": "text", "align": "left", "baseline": "alphabetic", "font": "DejaVu Serif", "fontSize": 15, "color": "#333", "lineHeight": 25.6},
          "encoding": {
            "x": {"datum": 1999.243, "type": "quantitative", "axis": {"title": null}},
            "y": {"datum": 32.52, "type": "quantitative", "axis": null},
            "text": {"field": "testo"}
          }
        },
        {
          "data": {"values": [{"testo": ["Entrata della Grecia", "nell’Eurozona"]}]},
          "mark": {"type": "text", "align": "left", "baseline": "alphabetic", "font": "DejaVu Serif", "fontSize": 15, "color": "#333", "lineHeight": 24.7},
          "encoding": {
            "x": {"datum": 2002.461, "type": "quantitative", "axis": {"title": null}},
            "y": {"datum": 31.48, "type": "quantitative", "axis": null},
            "text": {"field": "testo"}
          }
        }
      ],
      "resolve": {"axis": {"y": "independent"}}
    },
    {
      "layer": [
        {
          "data": {"values": [{}]},
          "mark": {"type": "rule", "stroke": "#333", "strokeWidth": 1.5},
          "encoding": {
            "x": {"datum": 3, "type": "quantitative", "scale": {"domain": [0, 960], "range": [-70, 890], "nice": false, "zero": false}, "axis": null},
            "x2": {"datum": 956},
            "y": {"datum": 25, "type": "quantitative", "scale": {"domain": [0, 1580], "range": [-113, 1467], "nice": false, "zero": false}, "axis": null}
          }
        },
        {
          "data": {"values": [{"testo": "MARCELLO MINENNA, Anamnesi"}]},
          "mark": {"type": "text", "align": "right", "baseline": "alphabetic", "font": "Liberation Serif", "fontSize": 18.5, "color": "#222"},
          "encoding": {"x": {"datum": 511, "type": "quantitative"}, "y": {"datum": 18.5, "type": "quantitative"}, "text": {"field": "testo"}}
        },
        {
          "data": {"values": [{"testo": "dell’euro e possibili cure"}]},
          "mark": {"type": "text", "align": "left", "baseline": "alphabetic", "font": "Liberation Serif", "fontStyle": "italic", "fontSize": 21, "color": "#222"},
          "encoding": {"x": {"datum": 516, "type": "quantitative"}, "y": {"datum": 18.5, "type": "quantitative"}, "text": {"field": "testo"}}
        },
        {
          "data": {"values": [{"testo": "Figura 1."}]},
          "mark": {"type": "text", "align": "left", "baseline": "alphabetic", "font": "Liberation Serif", "fontWeight": "bold", "fontSize": 23.5, "color": "#111"},
          "encoding": {"x": {"datum": 8, "type": "quantitative"}, "y": {"datum": 765, "type": "quantitative"}, "text": {"field": "testo"}}
        },
        {
          "data": {"values": [{"testo": "Convergenza del tasso di interesse dei titoli di stato a 10 anni emessi dai paesi dell’EZ."}]},
          "mark": {"type": "text", "align": "left", "baseline": "alphabetic", "font": "Liberation Serif", "fontSize": 23.5, "color": "#111"},
          "encoding": {"x": {"datum": 106, "type": "quantitative"}, "y": {"datum": 765, "type": "quantitative"}, "text": {"field": "testo"}}
        },
        {
          "data": {"values": [{"testo": "1.1."}]},
          "mark": {"type": "text", "align": "left", "baseline": "alphabetic", "font": "Liberation Serif", "fontWeight": "bold", "fontSize": 28.5, "color": "#111"},
          "encoding": {"x": {"datum": 8, "type": "quantitative"}, "y": {"datum": 871, "type": "quantitative"}, "text": {"field": "testo"}}
        },
        {
          "data": {"values": [{"testo": "La Germanizzazione dei tassi di interesse dell’Eurozona"}]},
          "mark": {"type": "text", "align": "left", "baseline": "alphabetic", "font": "Liberation Serif", "fontWeight": "bold", "fontSize": 28.5, "color": "#111"},
          "encoding": {"x": {"datum": 101, "type": "quantitative"}, "y": {"datum": 871, "type": "quantitative"}, "text": {"field": "testo"}}
        },
        {
          "data": {"values": [{"testo": "5"}]},
          "mark": {"type": "text", "align": "center", "baseline": "alphabetic", "font": "Liberation Serif", "fontSize": 26, "color": "#111"},
          "encoding": {"x": {"datum": 480, "type": "quantitative"}, "y": {"datum": 1573, "type": "quantitative"}, "text": {"field": "testo"}}
        }
      ]
    },
    {
      "layer": [
        {
          "data": {"values": [
            {"riga": 1, "testo": "In questo processo di convergenza un ruolo chiave è stato svolto dalla regola-"}
          ]},
          "mark": {"type": "text", "align": "left", "baseline": "alphabetic", "font": "Liberation Serif", "fontSize": 28, "color": "#111"},
          "encoding": {
            "x": {"datum": 46, "type": "quantitative", "scale": {"domain": [0, 960], "range": [-70, 890], "nice": false, "zero": false}, "axis": null},
            "y": {"field": "riga", "type": "quantitative", "scale": {"domain": [1, 13], "range": [829, 1223], "nice": false, "zero": false}, "axis": null},
            "text": {"field": "testo"}
          }
        },
        {
          "data": {"values": [
            {"riga": 2, "testo": "mentazione che – attraverso le direttive sulla misurazione dei rischi per banche (Ba-"},
            {"riga": 3, "testo": "silea), assicurazioni (Solvency) e fondi comuni di investimento (UCITs) – ha sta-"},
            {"riga": 4, "testo": "bilito l’identità dei rischi dei debiti sovrani dell’Eurozona. Questa identità ha orien-"},
            {"riga": 5, "testo": "tato i comportamenti degli operatori sui mercati finanziari che hanno posto in essere"},
            {"riga": 6, "testo": "operazioni di «quasi-arbitraggio» sui titoli di Stato dei Paesi che avrebbero costi-"},
            {"riga": 7, "testo": "tuito l’Eurozona (non a caso denominate «convergency trades»). Tali operazioni"},
            {"riga": 8, "testo": "sono state alla base della germanizzazione della curva dei tassi dell’euro. Infatti, la"},
            {"riga": 9, "testo": "«finanza» – certa delle regole che non discriminavano i rischi dei vari debiti sovrani"},
            {"riga": 10, "testo": "europei e del ruolo di garanzia svolto su tale aspetto dalla Banca Centrale Europea"},
            {"riga": 11, "testo": "– vendette i titoli di Stato con i rendimenti più alti e comprò quelli con i rendimenti"},
            {"riga": 12, "testo": "più bassi sino a quando tutti i titoli di Stato europei presentarono il medesimo ren-"},
            {"riga": 13, "testo": "dimento dei titoli di Stato tedeschi."}
          ]},
          "mark": {"type": "text", "align": "left", "baseline": "alphabetic", "font": "Liberation Serif", "fontSize": 28, "color": "#111"},
          "encoding": {
            "x": {"datum": 8, "type": "quantitative"},
            "y": {"field": "riga", "type": "quantitative"},
            "text": {"field": "testo"}
          }
        }
      ]
    }
  ],
  "resolve": {"scale": {"x": "independent", "y": "independent"}}
}
